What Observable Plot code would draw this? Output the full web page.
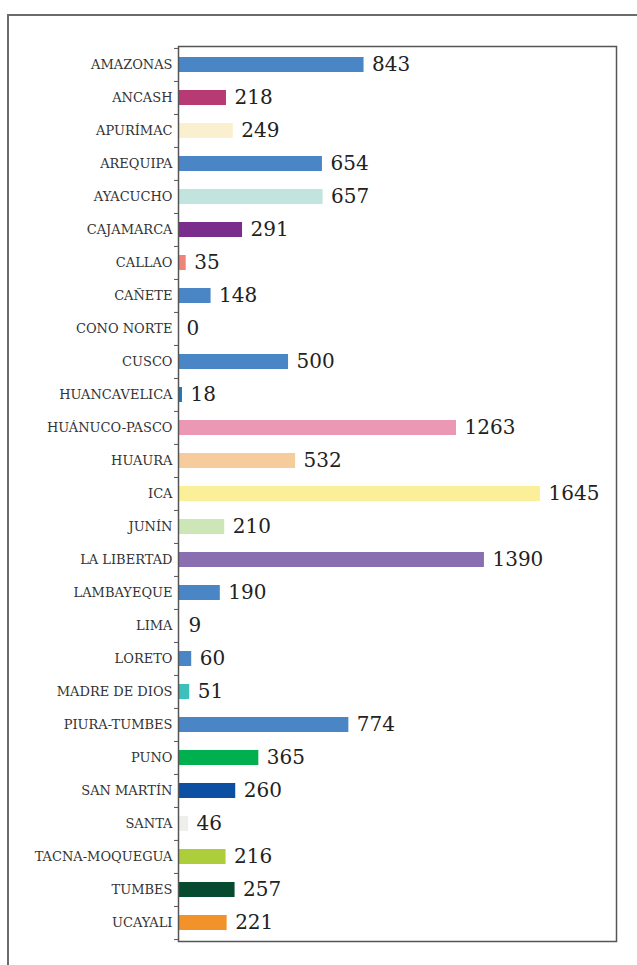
<!DOCTYPE html>
<html>
<head>
<meta charset="utf-8">
<script src="https://cdn.jsdelivr.net/npm/d3@7"></script>
<script src="https://cdn.jsdelivr.net/npm/@observablehq/plot@0.6"></script>
<style>
  html, body { margin: 0; padding: 0; background: #fff; }
  #wrap { position: relative; width: 637px; height: 965px; overflow: hidden; }
  #outer { position: absolute; left: 7px; top: 14px; width: 700px; height: 1000px;
           border-top: 2px solid #6b6b6b; border-left: 2px solid #6b6b6b; box-sizing: border-box; }
  #chart { position: absolute; left: 0; top: 0; }
</style>
</head>
<body>
<div id="wrap"><div id="outer"></div><div id="chart"></div></div>
<script>
const categories = ["AMAZONAS","ANCASH","APURÍMAC","AREQUIPA","AYACUCHO","CAJAMARCA","CALLAO","CAÑETE","CONO NORTE","CUSCO","HUANCAVELICA","HUÁNUCO-PASCO","HUAURA","ICA","JUNÍN","LA LIBERTAD","LAMBAYEQUE","LIMA","LORETO","MADRE DE DIOS","PIURA-TUMBES","PUNO","SAN MARTÍN","SANTA","TACNA-MOQUEGUA","TUMBES","UCAYALI"];
const values = [843,218,249,654,657,291,35,148,0,500,18,1263,532,1645,210,1390,190,9,60,51,774,365,260,46,216,257,221];
const colors = ["#4a86c5","#b83a74","#faf0cf","#4a86c5","#c2e4de","#7b2d8b","#f0837a","#4a86c5","#4a86c5","#4a86c5","#1c78be","#eb98b5","#f6cc9c","#fbef9a","#cce6b8","#8a6fb0","#4a86c5","#ffffff","#4a86c5","#3dbfbc","#4a86c5","#00b04f","#0c4fa3","#eeeeea","#aecd3b","#064a2f","#f2922a"];

const data = categories.map((c, i) => ({name: c, value: values[i], color: colors[i]}));

const W = 637, H = 965, mL = 178, mT = 46, mR = 21, mB = 24;
const step = (H - mT - mB) / categories.length;

const chart = Plot.plot({
  width: W, height: H,
  marginLeft: mL, marginTop: mT, marginRight: mR, marginBottom: mB,
  style: {fontFamily: "DejaVu Serif", background: "transparent", overflow: "visible"},
  x: {domain: [0, 1990], axis: null},
  y: {domain: categories, paddingInner: 0.56, paddingOuter: 0.28, axis: null},
  color: {type: "identity"},
  marks: [
    Plot.barX(data, {x: "value", y: "name", fill: "color"}),
    Plot.text(data, {x: "value", y: "name", text: d => String(d.value), dx: 8, textAnchor: "start",
      fontSize: 20, fill: "#222"}),
    Plot.frame({stroke: "#555", strokeWidth: 1.5}),
    Plot.axisY({tickSize: 0, tickPadding: 6, fontSize: 13, fill: "#333", label: null}),
    Plot.axisY({tickSize: 4, tickFormat: () => "", dy: -step / 2, stroke: "#555", label: null}),
    Plot.axisY({ticks: [categories[categories.length - 1]], tickSize: 4, tickFormat: () => "", dy: step / 2, stroke: "#555", label: null})
  ]
});
document.getElementById("chart").appendChild(chart);
</script>
</body>
</html>
